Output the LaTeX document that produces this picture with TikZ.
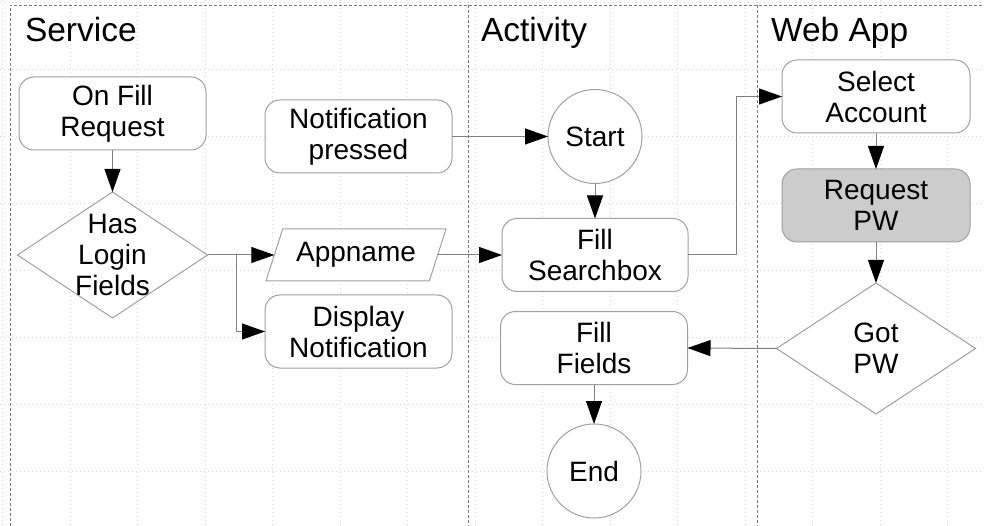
\documentclass[tikz,border=0pt]{standalone}
\usepackage{fontspec}
\setmainfont{Liberation Sans}
\usetikzlibrary{shapes.geometric,arrows.meta}
\definecolor{edgec}{HTML}{808080}
\definecolor{outlinec}{HTML}{A0A0A0}
\definecolor{lanec}{HTML}{7A7A7A}
\definecolor{gridc}{HTML}{D8D8D8}
\definecolor{shadec}{HTML}{CCCCCC}

\begin{document}
\begin{tikzpicture}[x=1pt,y=-1pt,
  every node/.style={inner sep=0pt, outer sep=0pt, align=center,
    font=\fontsize{28pt}{31pt}\selectfont},
  box/.style={draw=outlinec, line width=1pt, rounded corners=15pt,
    minimum width=187pt, minimum height=73pt, fill=white},
  term/.style={circle, draw=outlinec, line width=1pt, minimum size=94pt, fill=white},
  choice/.style={diamond, draw=outlinec, line width=1pt, fill=white},
  datain/.style={trapezium, trapezium left angle=56.4, trapezium right angle=123.6,
    trapezium stretches body, draw=outlinec, line width=1pt, fill=white,
    minimum width=180pt, minimum height=52pt},
  flow/.style={draw=edgec, line width=1pt, -{Triangle[length=23pt,width=16pt,black]}},
  link/.style={draw=edgec, line width=1pt},
  lanebar/.style={draw=lanec, line width=0.8pt, dash pattern=on 3pt off 2pt},
  gridline/.style={draw=gridc, line width=0.7pt, dash pattern=on 1pt off 3pt},
  title/.style={anchor=base west, font=\fontsize{33.5pt}{38pt}\selectfont},
]
% canvas
\fill[white] (0,0) rectangle (984,526);
\useasboundingbox (0,0) rectangle (984,526);

% background grid
\foreach \i in {0,...,14} \draw[gridline] ({2.5+67.5*\i},0) -- ({2.5+67.5*\i},526);
\foreach \j in {0,...,7} \draw[gridline] (0,{2+67*\j}) -- (984,{2+67*\j});

% swimlane borders
\draw[lanebar] (10,526) -- (10,5) -- (984,5);
\draw[lanebar] (468,5) -- (468,526);
\draw[lanebar] (757,5) -- (757,526);

% lane titles
\node[title] (tservice) at (25,42) {Service};
\node[title] (tactivity) at (481,42) {Activity};
\node[title] (twebapp) at (771,42) {Web App};

% Service lane
\node[box] (ofr) at (112.5,113.5) {On Fill\\Request};
\node[choice, minimum width=190pt, minimum height=126pt,
  label={center:Has\\Login\\Fields}] (hlf) at (112.5,255) {};
\node[box] (np) at (358.5,136.5) {Notification\\pressed};
\node[datain] (app) at (356,255) {Appname};
\node[box] (dn) at (358.5,331.5) {Display\\Notification};

% Activity lane
\node[term] (start) at (595,136.5) {Start};
\node[box, minimum width=186pt] (fs) at (595,255) {Fill\\Searchbox};
\node[box] (ff) at (594,348) {Fill\\Fields};
\node[term] (end) at (594,471) {End};

% Web App lane
\node[box, minimum width=188pt] (sa) at (876,96.5) {Select\\Account};
\node[box, minimum width=188pt, fill=shadec] (rpw) at (876,205.5) {Request\\PW};
\node[choice, minimum width=199pt, minimum height=131pt,
  label={center:Got\\PW}] (gpw) at (876,348.5) {};

% connectors
\coordinate (split) at (236,255);
\coordinate (jog) at (736,255);
\draw[flow] (ofr.south) -- (hlf.north);
\draw[link] (hlf.east) -- (split);
\draw[flow] (split) -- (app.left side);
\draw[flow] (split) |- (dn.west);
\draw[flow] (app.right side) -- (fs.west);
\draw[flow] (np.east) -- (start.west);
\draw[flow] (start.south) -- (fs.north);
\draw[flow] (fs.east) -- (jog) -- (jog |- sa.west) -- (sa.west);
\draw[flow] (sa.south) -- (rpw.north);
\draw[flow] (rpw.south) -- (gpw.north);
\draw[flow] (gpw.west) -- (ff.east);
\draw[flow] (ff.south) -- (end.north);
\end{tikzpicture}
\end{document}
